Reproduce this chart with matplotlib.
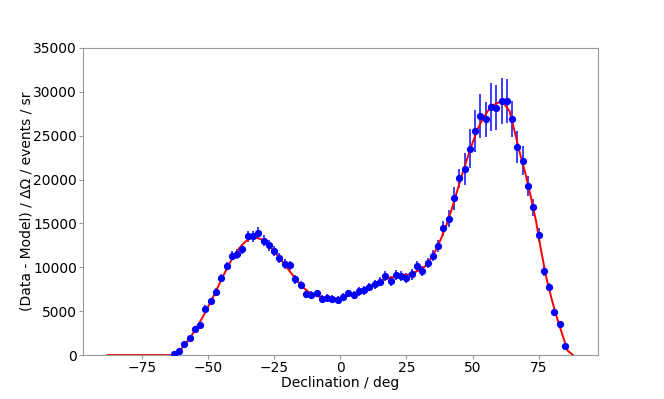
import numpy as np
import matplotlib
matplotlib.use("Agg")
import matplotlib.pyplot as plt

# Data bins (declination centres, deg)
declination = [-63, -61, -59, -57, -55, -53, -51, -49, -47, -45, -43, -41, -39, -37,
               -35, -33, -31, -29, -27, -25, -23, -21, -19, -17, -15, -13, -11, -9,
               -7, -5, -3, -1, 1, 3, 5, 7, 9, 11, 13, 15, 17, 19, 21, 23, 25, 27,
               29, 31, 33, 35, 37, 39, 41, 43, 45, 47, 49, 51, 53, 55, 57, 59, 61,
               63, 65, 67, 69, 71, 73, 75, 77, 79, 81, 83, 85]

values = [80, 420, 1220, 1900, 2960, 3380, 5280, 6150, 7220, 8780, 10140, 11320,
          11550, 12120, 13520, 13520, 13940, 13030, 12500, 11850, 11050, 10370,
          10220, 8620, 7980, 6990, 6880, 7030, 6420, 6530, 6420, 6270, 6610, 7030,
          6880, 7250, 7370, 7750, 8050, 8360, 9000, 8470, 9080, 9040, 8810, 9190,
          10140, 9570, 10540, 11320, 12420, 14440, 15540, 17860, 20140, 21200,
          23530, 25500, 27240, 26880, 28300, 28190, 28950, 28950, 26900, 23740,
          22150, 19230, 16830, 13680, 9570, 7790, 4940, 3530, 1030]

errors = [150, 200, 250, 300, 330, 350, 380, 400, 430, 470, 500, 520, 550, 580,
          620, 650, 680, 620, 600, 580, 560, 540, 520, 500, 480, 460, 450, 440,
          430, 430, 430, 430, 430, 440, 450, 460, 470, 480, 500, 520, 540, 550,
          560, 570, 580, 590, 620, 570, 570, 600, 700, 850, 950, 1300, 1100, 1800,
          2250, 2400, 2550, 2000, 2750, 2600, 2650, 2500, 2050, 1800, 1650, 1150,
          1000, 830, 570, 450, 380, 300, 230]

# Model curve
model_dec = [-88, -86, -84, -82, -80, -78, -76, -74, -72, -70, -68, -66, -64,
             -62, -60, -58, -56, -54, -52, -50, -48, -46, -44, -42, -40, -38,
             -36, -34, -32, -30, -28, -26, -24, -22, -20, -18, -16, -14, -12,
             -10, -8, -6, -4, -2, 0, 2, 4, 6, 8, 10, 12, 14, 16, 18, 20, 22, 24,
             26, 28, 30, 32, 34, 36, 38, 40, 42, 44, 46, 48, 50, 52, 54, 56, 58,
             60, 62, 64, 66, 68, 70, 72, 74, 76, 78, 80, 82, 84, 86, 88]
model_val = [0, 0, 0, 0, 0, 0, 0, 0, 0, 0, 0, 0, 0,
             200, 750, 1500, 2350, 3300, 4350, 5500, 6700, 7950, 9200, 10400,
             11400, 12250, 12900, 13300, 13400, 13200, 12750, 12150, 11450, 10700,
             9900, 9100, 8350, 7700, 7200, 6850, 6650, 6500, 6450, 6450, 6550,
             6700, 6900, 7150, 7400, 7700, 8000, 8300, 8550, 8750, 8900, 9000,
             9100, 9200, 9400, 9700, 10100, 10900, 11900, 13200, 14700, 16500,
             18500, 20500, 22400, 24200, 25800, 27000, 27900, 28500, 28800, 28600,
             27800, 25400, 22900, 20700, 18100, 15300, 11800, 8700, 6300, 4200,
             2300, 500, 0]

fig = plt.figure(figsize=(6.64, 3.99), dpi=100)
ax = fig.add_subplot(111)

ax.errorbar(declination, values, yerr=errors, fmt='none', ecolor='blue',
            elinewidth=1.4, alpha=0.75, zorder=2)
ax.plot(model_dec, model_val, color='red', lw=1.4, zorder=3)
ax.plot(declination, values, 'o', color='blue', ms=4.2, zorder=4)

ax.set_xlim(-97.3, 97.3)
ax.set_ylim(0, 35000)
ax.set_xticks([-75, -50, -25, 0, 25, 50, 75])
ax.set_xlabel("Declination / deg", fontsize=10, labelpad=0.5)
ax.set_ylabel("(Data - Model) / ΔΩ / events / sr", fontsize=10, labelpad=-0.5)

for sp in ax.spines.values():
    sp.set_color('#999999')
ax.tick_params(colors='#999999', labelcolor='black', length=2.6, pad=1.8,
               labelsize=10)

fig.savefig("out.png", dpi=100)
